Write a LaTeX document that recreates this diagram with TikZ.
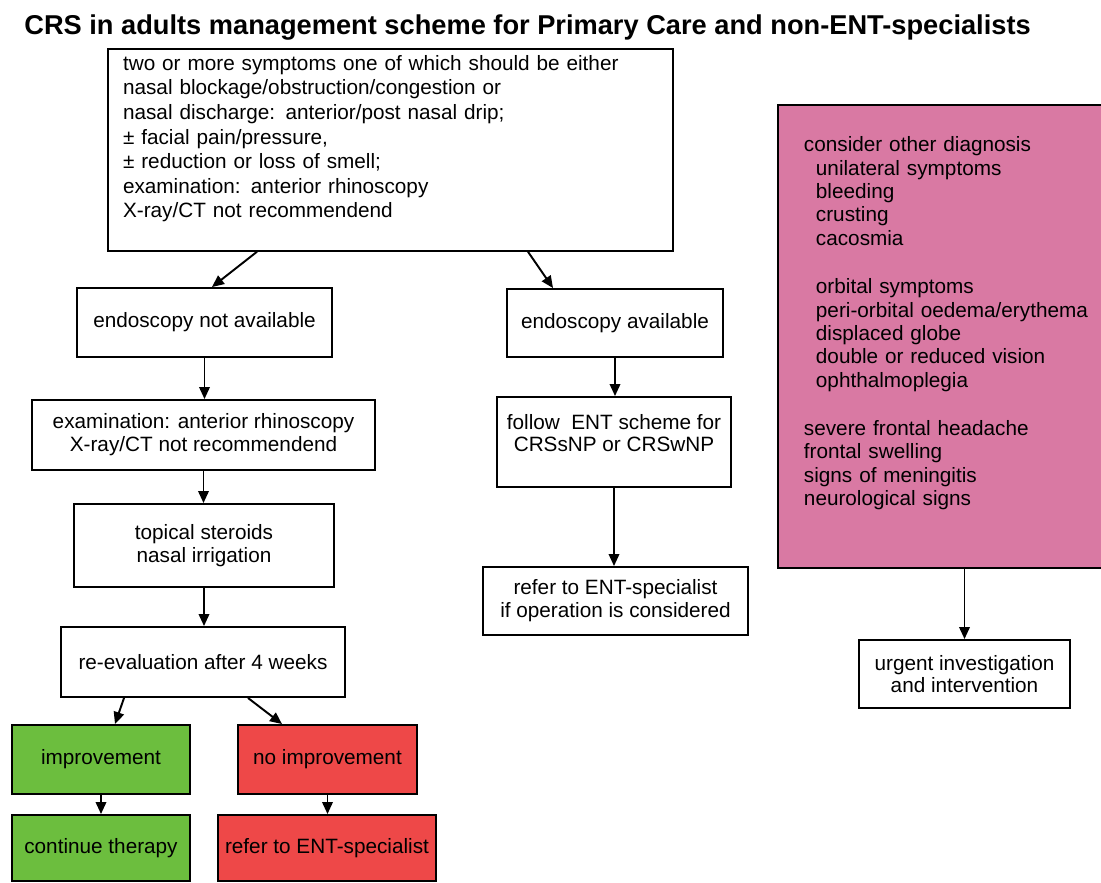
\documentclass[tikz,border=0pt]{standalone}
\usepackage{fontspec}
\setmainfont{Liberation Sans}
\usetikzlibrary{arrows.meta, positioning, calc}
\definecolor{alarmpink}{RGB}{217,121,163}
\definecolor{okgreen}{RGB}{108,190,62}
\definecolor{badred}{RGB}{238,72,72}
\tikzset{
  box/.style={draw, line width=1.1pt, fill=white, align=center, inner sep=0.12cm,
    font=\fontsize{11.8}{13}\selectfont},
  flow/.style={line width=1.1pt, -{Triangle[length=2.4mm, width=2.1mm]}},
}

\begin{document}
\begin{tikzpicture}[x=0.02cm, y=-0.02cm]
  \useasboundingbox (0,0) rectangle (1101,882);
  % Title
  \node[anchor=base west, inner sep=0, font=\bfseries\fontsize{15.5}{18}\selectfont] (title) at (24,35)
    {CRS in adults management scheme for Primary Care and non-ENT-specialists};
  % Entry criteria
  \node[box, align=left, text width=10.7cm, inner xsep=0.3cm, minimum height=4cm, text depth=3.49cm,
    font=\fontsize{11.8}{14}\selectfont] (symptoms) at (390.5,150)
    {two or more symptoms one of which should be either\\
     nasal blockage/obstruction/congestion or\\
     nasal discharge: anterior/post nasal drip;\\
     ± facial pain/pressure,\\
     ± reduction or loss of smell;\\
     examination: anterior rhinoscopy\\
     X-ray/CT not recommendend};
  % Without endoscopy
  \node[box, minimum width=5.1cm, minimum height=1.38cm] (noendo) at (204.5,322.5) {endoscopy not available};
  \node[box, minimum width=6.86cm, minimum height=1.4cm] (rhino) at (203.5,435)
    {examination: anterior rhinoscopy\\X-ray/CT not recommendend};
  \node[box, minimum width=5.2cm, minimum height=1.66cm] (steroids) at (204,545.5) {topical steroids\\nasal irrigation};
  \node[box, minimum width=5.68cm, minimum height=1.4cm] (reeval) at (203,662) {re-evaluation after 4 weeks};
  \node[box, fill=okgreen, minimum width=3.56cm, minimum height=1.38cm] (better) at (101,759.5) {improvement};
  \node[box, fill=badred, minimum width=3.58cm, minimum height=1.38cm] (worse) at (327.5,759.5) {no improvement};
  \node[box, fill=okgreen, minimum width=3.56cm, minimum height=1.32cm] (continue) at (101,848) {continue therapy};
  \node[box, fill=badred, minimum width=4.36cm, minimum height=1.32cm] (referleft) at (327,848) {refer to ENT-specialist};
  % With endoscopy
  \node[box, minimum width=4.32cm, minimum height=1.36cm] (endo) at (615,323) {endoscopy available};
  \node[box, minimum width=4.68cm, minimum height=1.8cm, text depth=0.36cm] (entscheme) at (614,442)
    {follow\ \ ENT scheme for\\CRSsNP or CRSwNP};
  \node[box, minimum width=5.3cm, minimum height=1.36cm] (referop) at (615.5,601)
    {refer to ENT-specialist\\if operation is considered};
  % Red flags
  \node[box, fill=alarmpink, anchor=west, align=left, text width=5.7cm, inner xsep=0.52cm, minimum height=9.26cm,
    text depth=7.69cm, font=\fontsize{11.8}{13.3}\selectfont] (redflags) at (777,336.5)
    {consider other diagnosis\\
     \hspace*{0.24cm}unilateral symptoms\\
     \hspace*{0.24cm}bleeding\\
     \hspace*{0.24cm}crusting\\
     \hspace*{0.24cm}cacosmia\\[0.5cm]
     \hspace*{0.24cm}orbital symptoms\\
     \hspace*{0.24cm}peri-orbital oedema/erythema\\
     \hspace*{0.24cm}displaced globe\\
     \hspace*{0.24cm}double or reduced vision\\
     \hspace*{0.24cm}ophthalmoplegia\\[0.5cm]
     severe frontal headache\\
     frontal swelling\\
     signs of meningitis\\
     neurological signs};
  \node[box, minimum width=4.22cm, minimum height=1.36cm] (urgent) at (964.5,674) {urgent investigation\\and intervention};
  % Connectors
  \draw[flow] ([xshift=-2.67cm]symptoms.south) -- ([xshift=0.15cm]noendo.north);
  \draw[flow] ([xshift=2.75cm]symptoms.south) -- ([xshift=-1.24cm]endo.north);
  \draw[flow] (noendo.south) -- (noendo.south |- rhino.north);
  \draw[flow] (rhino.south) -- (rhino.south |- steroids.north);
  \draw[flow] (steroids.south) -- (steroids.south |- reeval.north);
  \draw[flow] ([xshift=-1.58cm]reeval.south) -- ([xshift=0.28cm]better.north);
  \draw[flow] ([xshift=0.9cm]reeval.south) -- ([xshift=-0.91cm]worse.north);
  \draw[flow] (better.south) -- (better.south |- continue.north);
  \draw[flow] (worse.south) -- (worse.south |- referleft.north);
  \draw[flow] (endo.south) -- (endo.south |- entscheme.north);
  \draw[flow] (entscheme.south) -- (entscheme.south |- referop.north);
  \draw[flow] (urgent.north |- redflags.south) -- (urgent.north);
\end{tikzpicture}
\end{document}
